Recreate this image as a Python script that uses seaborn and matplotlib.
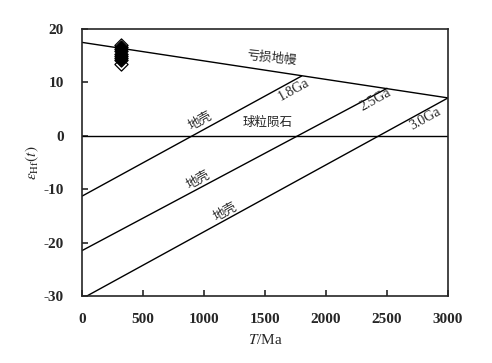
import matplotlib
matplotlib.use("Agg")
import matplotlib.pyplot as plt
import seaborn as sns
import pandas as pd

# model lines (T in Ma, epsilon Hf)
dm_T = [0, 3000]
dm_eps = [17.5, 7.1]
chur_T = [0, 3000]
chur_eps = [0, 0]
crust18_T = [0, 1800]
crust18_eps = [-11.3, 11.2]
crust25_T = [0, 2500]
crust25_eps = [-21.5, 8.9]
crust30_T = [0, 3000]
crust30_eps = [-30.5, 7.1]

# zircon samples
sample_T = [320, 320, 320, 320, 320, 320, 320, 320, 320]
sample_eps = [17.0, 16.6, 16.2, 15.8, 15.4, 15.0, 14.6, 14.2, 13.5]
sample_open = [True, False, False, False, False, False, False, False, True]

sns.set_style("ticks")
plt.rcParams['font.family'] = ['Liberation Serif', 'Noto Sans CJK SC']
plt.rcParams['mathtext.fontset'] = 'stix'
plt.rcParams['axes.unicode_minus'] = False

fig = plt.figure(figsize=(4.92, 3.63), dpi=100)
ax = fig.add_axes([0.1667, 0.1846, 0.7439, 0.7354])

for T, e in [(dm_T, dm_eps), (chur_T, chur_eps), (crust18_T, crust18_eps),
             (crust25_T, crust25_eps), (crust30_T, crust30_eps)]:
    sns.lineplot(x=T, y=e, ax=ax, color='black', lw=1.0)

df = pd.DataFrame({'T': sample_T, 'eps': sample_eps, 'open': sample_open})
sns.scatterplot(data=df[df['open']], x='T', y='eps', ax=ax, marker='D', s=45,
                facecolor='white', edgecolor='black', linewidth=0.9, zorder=3)
sns.scatterplot(data=df[~df['open']], x='T', y='eps', ax=ax, marker='D', s=45,
                color='black', edgecolor='black', linewidth=0.9, zorder=4)

ax.set_xlim(0, 3000)
ax.set_ylim(-30, 20)
ax.set_xticks([0, 500, 1000, 1500, 2000, 2500, 3000])
ax.set_yticks([-30, -20, -10, 0, 10, 20])
ax.tick_params(direction='in', length=4, width=1.2, labelsize=11)
ax.tick_params(axis='x', pad=12)
ax.tick_params(axis='y', pad=13)
for lab in ax.get_xticklabels() + ax.get_yticklabels():
    lab.set_fontweight('bold')
for s in ax.spines.values():
    s.set_linewidth(1.2)

ax.set_xlabel('$T$/Ma', fontsize=11, labelpad=5)
ax.set_ylabel(r'$\varepsilon_{\rm Hf}(t)$', fontsize=11, labelpad=2)

cjk = ['Noto Sans CJK SC', 'DejaVu Sans']
ax.text(1557, 14.6, '亏损地幔', family=cjk, fontsize=9, rotation=-6, ha='center', va='center')
ax.text(1525, 2.6, '球粒陨石', family=cjk, fontsize=9, ha='center', va='center')
ax.text(967, 2.8, '地壳', family=cjk, fontsize=9, rotation=29, ha='center', va='center')
ax.text(951, -8.3, '地壳', family=cjk, fontsize=9, rotation=29, ha='center', va='center')
ax.text(1172, -14.3, '地壳', family=cjk, fontsize=9, rotation=29, ha='center', va='center')
ax.text(1738, 8.6, '1.8Ga', fontsize=10, rotation=29, ha='center', va='center')
ax.text(2402, 6.7, '2.5Ga', fontsize=10, rotation=29, ha='center', va='center')
ax.text(2811, 3.1, '3.0Ga', fontsize=10, rotation=29, ha='center', va='center')

fig.savefig('out.png', dpi=100)
